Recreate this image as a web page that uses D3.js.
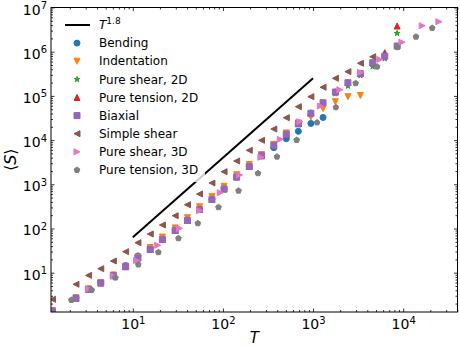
<!DOCTYPE html>
<html><head><meta charset="utf-8">
<script src="https://cdn.jsdelivr.net/npm/d3@7"></script>
<style>body{margin:0;background:#fff} svg{display:block} text{font-family:"DejaVu Sans",sans-serif}</style>
</head><body><svg id="c" width="460" height="348"></svg>
<script>
// ---------------- data ----------------
const T_grid = [1.285, 2.34, 3.23, 4.41, 6.08, 8.32, 11.4, 15.6, 21.3, 29.5, 40.4, 55, 75.5, 103, 142, 196, 268, 367, 505, 687, 946, 1291, 1770, 2437, 3357, 4594, 6250, 8570];
const S_bending = [1.38, 2.7, 4.3, 6.0, 8.8, 14.5, 24, 36, 58, 92, 155, 272, 460, 790, 1470, 2550, 4400, 6730, 10760, 15800, 23800, 32500];
const S_indentation = [1.38, 2.7, 4.3, 6.0, 8.9, 14, 22.5, 37, 64, 103, 175, 310, 525, 900, 1650, 2800, 4700, 8000, 14500, 24500, 33300, 51900, 74000, 96000, 102000];
const S_pureShear2D = [1.34, 2.6, 4.1, 5.8, 8.4, 13.5, 21, 33, 55, 88, 149, 262, 440, 760, 1420, 2450, 4300, 7400, 13200, 22800, 39000, 67000, 112000, 167500, 290000, 458000, 700000, 2610000];
const S_pureTension2D = [1.36, 2.64, 4.17, 5.85, 8.55, 13.7, 21.5, 33.5, 56.4, 90, 152, 269, 453, 784, 1463, 2529, 4436, 7620, 13600, 23500, 41500, 71000, 124000, 201000, 322000, 570000, 948000, 3810000];
const S_biaxial = [1.36, 2.64, 4.17, 5.85, 8.55, 13.7, 21.5, 33.5, 56.4, 90, 152, 269, 453, 784, 1463, 2529, 4436, 7620, 13600, 23500, 40400, 70100, 122400, 199000, 318000, 563000, 787000, 1346000];
const S_simpleShear = [2.5, 5.47, 8.7, 12.3, 18.4, 29.9, 47.7, 75, 120, 195, 345, 604, 1070, 1930, 3365, 5870, 9890, 17800, 32100, 57000, 96000, 156700, 250000, 353000, 547000, 771000];
const T_pureShear3D = [3.21, 6.08, 11.0, 18.9, 33, 55, 93.3, 153, 264, 433, 713, 1205, 1986, 3357, 5495, 9700, 16250, 24900];
const S_pureShear3D = [4.28, 8.4, 18.9, 41.7, 101, 253, 646, 1622, 4080, 10400, 26100, 59000, 138000, 342000, 667000, 1640000, 3870000, 4770000];
const T_pureTension3D = [2.08, 3.5, 6.41, 11.5, 19.2, 32.1, 52.7, 89.3, 149, 245, 398, 658, 1107, 1791, 2972, 5140, 8650, 13870, 21000];
const S_pureTension3D = [2.41, 4.06, 7.71, 15.3, 29, 60, 131, 302, 716, 1774, 4210, 10040, 25000, 55200, 192800, 458000, 1260000, 2180000, 3440000];
const lineT = [10, 1000];
const lineS = [63, 250000];
const seriesNames = ["Bending", "Indentation", "Pure shear, 2D", "Pure tension, 2D", "Biaxial", "Simple shear", "Pure shear, 3D", "Pure tension, 3D"];
const xTickExps = [1, 2, 3, 4];
const yTickExps = [1, 2, 3, 4, 5, 6, 7];

// ---------------- styles ----------------
const colors = ["#1f77b4", "#ff7f0e", "#2ca02c", "#d62728", "#9467bd", "#8c564b", "#e377c2", "#7f7f7f"];
const shapes = ["circle", "tri_down", "star", "tri_up", "square", "tri_left", "tri_right", "pentagon"];

const series = [
  {T: T_grid, S: S_bending},
  {T: T_grid, S: S_indentation},
  {T: T_grid, S: S_pureShear2D},
  {T: T_grid, S: S_pureTension2D},
  {T: T_grid, S: S_biaxial},
  {T: T_grid, S: S_simpleShear},
  {T: T_pureShear3D, S: S_pureShear3D},
  {T: T_pureTension3D, S: S_pureTension3D}
].map((s, i) => ({name: seriesNames[i], color: colors[i], shape: shapes[i],
  pts: s.S.map((v, j) => ({T: s.T[j], S: v}))}));

const svg = d3.select("#c");
const P = {l: 51, r: 457.5, t: 7.5, b: 312};
const x = d3.scaleLog().domain([1.236, 40090]).range([P.l, P.r]);
const y = d3.scaleLog().domain([1.29, 1e7]).range([P.b, P.t]);

function markerPath(shape, ms) {
  const r = ms / 2;
  switch (shape) {
    case "circle": return `M${r},0A${r},${r} 0 1,1 ${-r},0A${r},${r} 0 1,1 ${r},0Z`;
    case "square": return `M${-r},${-r}H${r}V${r}H${-r}Z`;
    case "tri_up": return `M0,${-r}L${r},${r}L${-r},${r}Z`;
    case "tri_down": return `M0,${r}L${r},${-r}L${-r},${-r}Z`;
    case "tri_left": return `M${-r},0L${r},${-r}L${r},${r}Z`;
    case "tri_right": return `M${r},0L${-r},${-r}L${-r},${r}Z`;
    case "star": {
      const pts = [];
      for (let k = 0; k < 10; k++) {
        const a = -Math.PI / 2 + k * Math.PI / 5;
        const rr = k % 2 === 0 ? r : r * 0.381966;
        pts.push([rr * Math.cos(a), rr * Math.sin(a)]);
      }
      return "M" + pts.map(p => p.join(",")).join("L") + "Z";
    }
    case "pentagon": {
      const pts = [];
      for (let k = 0; k < 5; k++) {
        const a = -Math.PI / 2 + k * 2 * Math.PI / 5;
        pts.push([r * Math.cos(a), r * Math.sin(a)]);
      }
      return "M" + pts.map(p => p.join(",")).join("L") + "Z";
    }
  }
}

// clip
svg.append("defs").append("clipPath").attr("id", "clip")
  .append("rect").attr("x", P.l).attr("y", P.t).attr("width", P.r - P.l).attr("height", P.b - P.t);

const plot = svg.append("g").attr("clip-path", "url(#clip)");
const MS = 6;
series.forEach(s => {
  plot.append("g").selectAll("path").data(s.pts).join("path")
    .attr("d", markerPath(s.shape, MS))
    .attr("transform", d => `translate(${x(d.T)},${y(d.S)})`)
    .attr("fill", s.color).attr("stroke", s.color).attr("stroke-width", 1);
});

// T^1.8 line
plot.append("path")
  .datum(lineT.map((t, i) => ({T: t, S: lineS[i]})))
  .attr("d", d3.line().x(d => x(d.T)).y(d => y(d.S)))
  .attr("fill", "none").attr("stroke", "#000").attr("stroke-width", 2);

// axes
function ticksFor(scale, exps) {
  const [a, b] = scale.domain();
  const major = exps.map(e => Math.pow(10, e));
  const minor = [];
  for (let e = Math.floor(Math.log10(a)); e <= Math.ceil(Math.log10(b)); e++) {
    for (let j = 2; j <= 9; j++) {
      const v = j * Math.pow(10, e);
      if (v > a && v < b) minor.push(v);
    }
  }
  return {major, minor};
}
const xt = ticksFor(x, xTickExps), yt = ticksFor(y, yTickExps);

function addAxis(gen, scale, vals, size, tx, ty) {
  const g = svg.append("g").attr("transform", `translate(${tx},${ty})`)
    .call(gen(scale).tickValues(vals).tickSizeInner(-size).tickSizeOuter(0).tickFormat(() => ""));
  g.select(".domain").remove();
  g.selectAll(".tick line").attr("stroke", "#000").attr("stroke-width", 0.8);
  return g;
}
const xb = addAxis(d3.axisBottom, x, xt.major, 3.5, 0, P.b);
addAxis(d3.axisBottom, x, xt.minor, 2, 0, P.b);
addAxis(d3.axisTop, x, xt.major, 3.5, 0, P.t);
addAxis(d3.axisTop, x, xt.minor, 2, 0, P.t);
const yl = addAxis(d3.axisLeft, y, yt.major, 3.5, P.l, 0);
addAxis(d3.axisLeft, y, yt.minor, 2, P.l, 0);
addAxis(d3.axisRight, y, yt.major, 3.5, P.r, 0);
addAxis(d3.axisRight, y, yt.minor, 2, P.r, 0);

xb.selectAll(".tick").each(function (d) {
  const t = d3.select(this).append("text").attr("x", 0).attr("y", 17)
    .attr("text-anchor", "middle").attr("fill", "#000").attr("font-size", 14);
  t.append("tspan").text("10");
  t.append("tspan").attr("dy", -5.5).attr("font-size", 10).text(Math.round(Math.log10(d)));
});
yl.selectAll(".tick").each(function (d) {
  const t = d3.select(this).append("text").attr("x", -4).attr("y", 6.5)
    .attr("text-anchor", "end").attr("fill", "#000").attr("font-size", 14);
  t.append("tspan").text("10");
  t.append("tspan").attr("dy", -5.5).attr("font-size", 10).text(Math.round(Math.log10(d)));
});

// frame
svg.append("rect").attr("x", P.l).attr("y", P.t).attr("width", P.r - P.l).attr("height", P.b - P.t)
  .attr("fill", "none").attr("stroke", "#000").attr("stroke-width", 1);

// axis labels
svg.append("text").attr("x", (P.l + P.r) / 2).attr("y", 343).attr("text-anchor", "middle")
  .attr("font-size", 15).attr("font-style", "italic").text("T");
const ylab = svg.append("text").attr("transform", `translate(16,${(P.t + P.b) / 2}) rotate(-90)`)
  .attr("text-anchor", "middle").attr("font-size", 16);
ylab.append("tspan").text("⟨");
ylab.append("tspan").attr("font-style", "italic").text("S");
ylab.append("tspan").text("⟩");

// legend
const leg = svg.append("g");
leg.append("rect").attr("x", 57).attr("y", 12).attr("width", 148).attr("height", 170)
  .attr("rx", 3).attr("fill", "#fff").attr("fill-opacity", 0.8);
const rowY = i => 25 + i * 18.12;
leg.append("line").attr("x1", 65).attr("x2", 90).attr("y1", rowY(0)).attr("y2", rowY(0))
  .attr("stroke", "#000").attr("stroke-width", 2);
const lt = leg.append("text").attr("x", 99).attr("y", rowY(0)).attr("dy", "0.35em").attr("font-size", 12);
lt.append("tspan").attr("font-style", "italic").text("T");
lt.append("tspan").attr("dy", -5).attr("font-size", 9).text("1.8");
series.forEach((s, i) => {
  const yy = rowY(i + 1);
  leg.append("path").attr("d", markerPath(s.shape, MS))
    .attr("transform", `translate(77,${yy})`).attr("fill", s.color).attr("stroke", s.color).attr("stroke-width", 1);
  leg.append("text").attr("x", 99).attr("y", yy).attr("dy", "0.35em").attr("font-size", 12).text(s.name);
});
</script></body></html>
